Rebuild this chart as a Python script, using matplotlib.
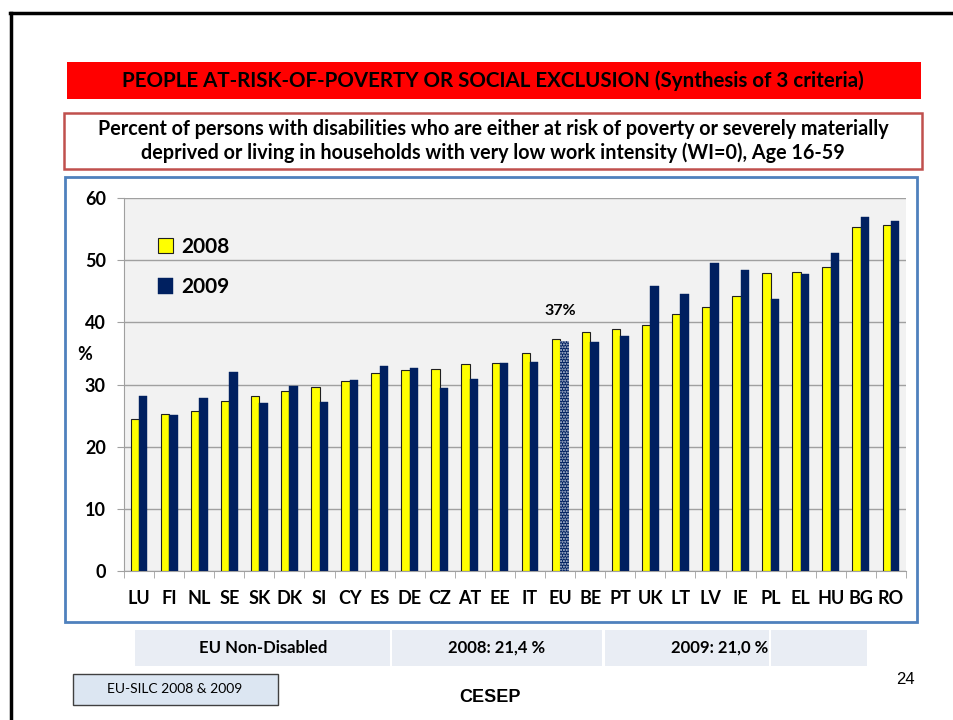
import numpy as np
import matplotlib.pyplot as plt
from matplotlib.patches import Rectangle
from matplotlib.lines import Line2D

# data
countries = ['LU', 'FI', 'NL', 'SE', 'SK', 'DK', 'SI', 'CY', 'ES', 'DE', 'CZ', 'AT', 'EE',
             'IT', 'EU', 'BE', 'PT', 'UK', 'LT', 'LV', 'IE', 'PL', 'EL', 'HU', 'BG', 'RO']
v2008 = [24.4, 25.3, 25.7, 27.4, 28.2, 29.0, 29.6, 30.6, 31.8, 32.4, 32.5, 33.3, 33.5,
         35.0, 37.3, 38.5, 39.0, 39.6, 41.3, 42.4, 44.3, 47.9, 48.1, 48.9, 55.4, 55.6]
v2009 = [28.2, 25.1, 27.9, 32.0, 27.1, 29.7, 27.2, 30.8, 33.0, 32.7, 29.5, 30.9, 33.5,
         33.6, 37.0, 36.8, 37.8, 45.8, 44.6, 49.5, 48.4, 43.8, 47.8, 51.2, 56.9, 56.3]
series_names = ['2008', '2009']
eu_label = '37%'
table_cells = ['EU Non-Disabled', '2008: 21,4 %', '2009: 21,0 %', '']

W, H = 954, 720
FONT = 'Lato'
YELLOW = '#ffff00'
NAVY = '#002060'


def fx(x):
    return x / W


def fy(y):
    return 1 - y / H


def box(x0, y0, x1, y1, fc, ec='none', lw=1.0):
    fig.add_artist(Rectangle((fx(x0), fy(y1)), fx(x1) - fx(x0), fy(y0) - fy(y1),
                             transform=fig.transFigure, facecolor=fc, edgecolor=ec,
                             linewidth=lw, zorder=-1))


fig = plt.figure(figsize=(W / 100, H / 100), dpi=100)
fig.patch.set_facecolor('white')

# slide border (left and top)
fig.add_artist(Line2D([fx(11), fx(11)], [fy(13), 0], color='black', lw=2.5, transform=fig.transFigure))
fig.add_artist(Line2D([fx(10), 1], [fy(13), fy(13)], color='black', lw=2.5, transform=fig.transFigure))

# title bar
box(67, 62, 921, 99, '#ff0000')
fig.text(fx(493), fy(81), 'PEOPLE AT-RISK-OF-POVERTY OR SOCIAL EXCLUSION (Synthesis of 3 criteria)',
         ha='center', va='center', fontsize=14.8, fontweight='bold', family=FONT, color='black')

# subtitle box
box(64, 113, 922, 169, 'white', ec='#c0504d', lw=1.8)
fig.text(fx(493), fy(129), 'Percent of persons with disabilities who are either at risk of poverty or severely materially',
         ha='center', va='center', fontsize=14.2, fontweight='bold', family=FONT)
fig.text(fx(493), fy(153), 'deprived or living in households with very low work intensity (WI=0), Age 16-59',
         ha='center', va='center', fontsize=14.2, fontweight='bold', family=FONT)

# chart frame
box(65, 177, 917, 622, 'white', ec='#4f81bd', lw=2)

ax = fig.add_axes([fx(124), fy(571), fx(906) - fx(124), fy(198) - fy(571)])
ax.set_zorder(2)
ax.set_facecolor('#f2f2f2')
x = np.arange(len(countries))
w = 0.28
b1 = ax.bar(x - 0.14, v2008, w, color=YELLOW, edgecolor='#202020', linewidth=0.8, zorder=3)
b2 = ax.bar(x + 0.14, v2009, w, color=NAVY, edgecolor=NAVY, linewidth=0.3, zorder=3)
eu = countries.index('EU')
plt.rcParams['hatch.linewidth'] = 1.2
b2[eu].set_hatch('......')
b2[eu].set_edgecolor('#c8d0e0')
b2[eu].set_linewidth(0)

ax.set_ylim(0, 60)
ax.set_xlim(-0.5, len(countries) - 0.5)
ax.set_yticks(range(0, 61, 10))
ax.yaxis.grid(True, color='#a0a0a0', lw=1, zorder=0)
ax.set_axisbelow(True)
ax.set_xticks(x)
ax.set_xticklabels(countries)
ax.set_xticks(np.arange(-0.5, len(countries), 1), minor=True)
ax.tick_params(axis='x', which='major', length=0, pad=14)
ax.tick_params(axis='x', which='minor', length=5, color='#a0a0a0', direction='out')
ax.tick_params(axis='y', length=5, color='#a0a0a0', pad=8)
for lab in ax.get_xticklabels() + ax.get_yticklabels():
    lab.set_fontweight('bold')
    lab.set_family(FONT)
    lab.set_fontsize(13)
for s in ['top', 'right']:
    ax.spines[s].set_visible(False)
for s in ['left', 'bottom']:
    ax.spines[s].set_color('#a0a0a0')

ax.text(eu, v2008[eu] + 4.5, eu_label, ha='center', va='center', fontsize=11.5,
        fontweight='bold', family=FONT)
fig.text(fx(85), fy(355), '%', ha='center', va='center', fontsize=13, fontweight='bold', family=FONT)

leg = ax.legend([b1, b2], series_names, loc='upper left', bbox_to_anchor=(0.019, 0.947),
                frameon=False, prop={'family': FONT, 'weight': 'bold', 'size': 15},
                handlelength=0.75, handleheight=0.75, handletextpad=0.4, labelspacing=1.0)

# bottom table
cells = [(135, 390), (392, 602), (605, 769), (771, 867)]
for (c0, c1), txt in zip(cells, table_cells):
    box(c0, 630, c1, 666, '#e9edf4')
fig.text(fx(263), fy(648), table_cells[0], ha='center', va='center', fontsize=12, fontweight='bold', family=FONT)
fig.text(fx(497), fy(648), table_cells[1], ha='center', va='center', fontsize=12, fontweight='bold', family=FONT)
fig.text(fx(768), fy(648), table_cells[2], ha='right', va='center', fontsize=12, fontweight='bold', family=FONT)

# footer
box(73, 674, 278, 705, '#dce6f2', ec='#404040', lw=1)
fig.text(fx(175), fy(689), 'EU-SILC 2008 & 2009', ha='center', va='center', fontsize=10, family=FONT)
fig.text(fx(490), fy(697), 'CESEP', ha='center', va='center', fontsize=13, fontweight='bold',
         family='Liberation Sans')
fig.text(fx(905), fy(680), '24', ha='center', va='center', fontsize=12, family='Liberation Sans')

fig.savefig('out.png', dpi=100)
